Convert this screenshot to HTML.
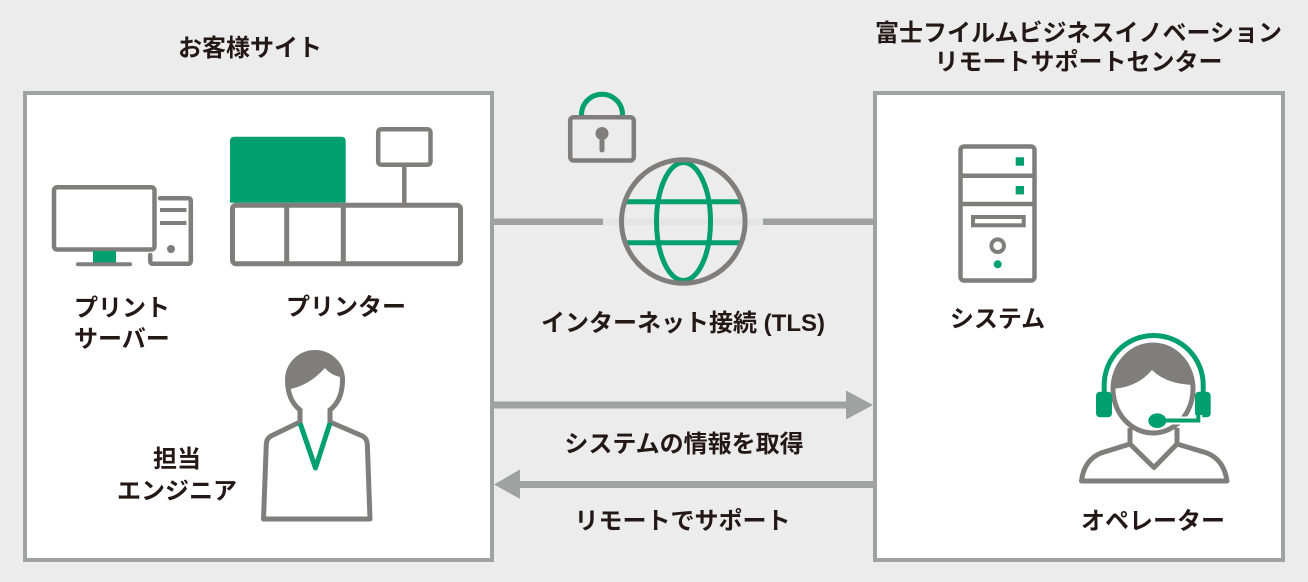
<!DOCTYPE html>
<html><head><meta charset="utf-8">
<style>
html,body{margin:0;padding:0;background:#ebeceb;}
svg{display:block;}
text{font-family:"Liberation Sans","Noto Sans CJK JP",sans-serif;fill:#231815;}
.t{font-size:24px;font-weight:bold;}
.l{font-size:24px;font-weight:bold;}
</style></head><body>
<svg width="1308" height="582" viewBox="0 0 1308 582" xmlns="http://www.w3.org/2000/svg">
<defs>
<clipPath id="eh"><path d="M300,422 L300,410 Q287.5,400 287.5,380 A27.5,27.5 0 0 1 342.5,380 Q342.5,400 330,410 L330,422 Z"/></clipPath>
<clipPath id="oh"><ellipse cx="1153" cy="389" rx="40" ry="44"/></clipPath>
</defs>
<rect width="1308" height="582" fill="#ebeceb"/>
<!-- boxes -->
<rect x="25" y="93" width="467" height="467" fill="#fff" stroke="#a0a2a1" stroke-width="4"/>
<rect x="875" y="93" width="408" height="467" fill="#fff" stroke="#a0a2a1" stroke-width="4"/>

<!-- titles -->
<text class="t" x="250" y="56" text-anchor="middle">お客様サイト</text>
<text class="t" x="1078.5" y="41" text-anchor="middle">富士フイルムビジネスイノベーション</text>
<text class="t" x="1078.5" y="70" text-anchor="middle">リモートサポートセンター</text>

<!-- connection lines -->
<line x1="494" y1="221.7" x2="603" y2="221.7" stroke="#a0a2a1" stroke-width="6.5"/>
<line x1="763" y1="221.7" x2="873" y2="221.7" stroke="#a0a2a1" stroke-width="6.5"/>
<line x1="603" y1="221.7" x2="763" y2="221.7" stroke="#e3e4e3" stroke-width="6.5"/>

<!-- lock -->
<path d="M581.5,118 L581.5,114.7 A20.5,20.5 0 0 1 622.5,114.7 L622.5,118" fill="none" stroke="#00a06e" stroke-width="5"/>
<rect x="570.2" y="117.2" width="63.6" height="43.3" rx="3.5" fill="#ebeceb" stroke="#7f7e7c" stroke-width="4.5"/>
<circle cx="602" cy="133.5" r="6.5" fill="#7f7e7c"/>
<line x1="602" y1="134" x2="602" y2="150" stroke="#7f7e7c" stroke-width="5" stroke-linecap="round"/>

<!-- globe -->
<line x1="624" y1="201.7" x2="743" y2="201.7" stroke="#00a06e" stroke-width="5"/>
<line x1="624" y1="242.7" x2="743" y2="242.7" stroke="#00a06e" stroke-width="5"/>
<ellipse cx="683.5" cy="221.5" rx="27" ry="59" fill="none" stroke="#00a06e" stroke-width="5"/>
<circle cx="683.3" cy="221.5" r="61.8" fill="none" stroke="#7f7e7c" stroke-width="5"/>
<text class="l" x="683" y="331" text-anchor="middle">インターネット接続 (TLS)</text>

<!-- arrows -->
<line x1="494" y1="405" x2="848" y2="405" stroke="#a0a2a1" stroke-width="7"/>
<polygon points="846,390.5 873,405 846,419.5" fill="#a0a2a1"/>
<line x1="518" y1="484.5" x2="873" y2="484.5" stroke="#a0a2a1" stroke-width="7"/>
<polygon points="494,484.5 520,469.5 520,499" fill="#a0a2a1"/>
<text class="l" x="684" y="452" text-anchor="middle">システムの情報を取得</text>
<text class="l" x="682.5" y="529" text-anchor="middle">リモートでサポート</text>

<!-- monitor / print server -->
<rect x="54" y="187.3" width="100.5" height="62.2" rx="3" fill="none" stroke="#7f7e7c" stroke-width="4.5"/>
<rect x="93" y="251" width="23" height="11.5" fill="#00a06e"/>
<line x1="78" y1="264.3" x2="130" y2="264.3" stroke="#7f7e7c" stroke-width="4" stroke-linecap="round"/>
<path d="M160,198.2 L188,198.2 Q190.8,198.2 190.8,201 L190.8,261 Q190.8,263.8 188,263.8 L153,263.8 Q150.2,263.8 150.2,261 L150.2,255" fill="none" stroke="#7f7e7c" stroke-width="4.5" stroke-linecap="round"/>
<line x1="160" y1="210" x2="186.5" y2="210" stroke="#7f7e7c" stroke-width="4"/>
<line x1="160" y1="223" x2="186.5" y2="223" stroke="#7f7e7c" stroke-width="4"/>
<circle cx="171" cy="249" r="4" fill="#7f7e7c"/>
<text class="l" x="74" y="316">プリント</text>
<text class="l" x="74" y="347">サーバー</text>

<!-- printer -->
<path d="M230,202.7 L230,141 Q230,136.7 234.5,136.7 L341.2,136.7 Q345.7,136.7 345.7,141 L345.7,202.7 Z" fill="#00a06e"/>
<rect x="232.5" y="205.2" width="228" height="58.5" rx="3.5" fill="none" stroke="#7f7e7c" stroke-width="5"/>
<line x1="286.7" y1="205" x2="286.7" y2="263.5" stroke="#7f7e7c" stroke-width="5"/>
<line x1="343.3" y1="205" x2="343.3" y2="263.5" stroke="#7f7e7c" stroke-width="5"/>
<rect x="378.2" y="129.2" width="52.3" height="35.6" rx="3" fill="none" stroke="#7f7e7c" stroke-width="4.5"/>
<line x1="404.3" y1="166" x2="404.3" y2="204" stroke="#7f7e7c" stroke-width="4.5"/>
<text class="l" x="346" y="315" text-anchor="middle">プリンター</text>

<!-- engineer -->
<path d="M300,422 L271,436 Q266.5,438.5 266.3,444 L263.5,519 L370,519 L367.3,444 Q367,438.5 362.5,436 L330,422" fill="#fff" stroke="#7f7e7c" stroke-width="5" stroke-linejoin="round"/>
<path d="M300,423 L315.5,468 L330,423" fill="none" stroke="#00a06e" stroke-width="5" stroke-linejoin="round"/>
<path d="M300,422 L300,410 Q287.5,400 287.5,380 A27.5,27.5 0 0 1 342.5,380 Q342.5,400 330,410 L330,422 Z" fill="#fff"/>
<path d="M280,390 Q305,390 325,368 Q333,378 350,378 L350,340 L280,340 Z" fill="#7f7e7c" clip-path="url(#eh)"/>
<path d="M300,423 L300,410 Q287.5,400 287.5,380 A27.5,27.5 0 0 1 342.5,380 Q342.5,400 330,410 L330,423" fill="none" stroke="#7f7e7c" stroke-width="5"/>
<text class="l" x="177" y="467" text-anchor="middle">担当</text>
<text class="l" x="177" y="499" text-anchor="middle">エンジニア</text>

<!-- server -->
<rect x="960.5" y="146.5" width="74" height="134" rx="3.5" fill="none" stroke="#7f7e7c" stroke-width="4.5"/>
<line x1="960" y1="175.7" x2="1035" y2="175.7" stroke="#7f7e7c" stroke-width="4.5"/>
<line x1="960" y1="204" x2="1035" y2="204" stroke="#7f7e7c" stroke-width="4.5"/>
<rect x="1015.7" y="157.3" width="8.3" height="8.4" fill="#00a06e"/>
<rect x="1015.7" y="186" width="8.3" height="8.4" fill="#00a06e"/>
<rect x="973" y="217" width="50.7" height="8.3" fill="none" stroke="#7f7e7c" stroke-width="4"/>
<circle cx="997.7" cy="245.7" r="6.3" fill="none" stroke="#7f7e7c" stroke-width="4"/>
<circle cx="997.7" cy="264.3" r="4" fill="#00a06e"/>
<text class="l" x="997.5" y="327" text-anchor="middle">システム</text>

<!-- operator -->
<path d="M1130,428 L1130,444 L1101,453 Q1084,460 1081.5,481 L1227,481 Q1224,460 1207,453 L1177,444 L1177,428" fill="#fff" stroke="#7f7e7c" stroke-width="5" stroke-linejoin="round"/>
<path d="M1130,444 L1154,467.5 L1177,444" fill="none" stroke="#7f7e7c" stroke-width="5" stroke-linejoin="round"/>
<ellipse cx="1153" cy="389" rx="40" ry="44" fill="#fff"/>
<path d="M1105,389 Q1135,390 1152,370 Q1168,386 1201,385 L1201,340 L1105,340 Z" fill="#7f7e7c" clip-path="url(#oh)"/>
<ellipse cx="1153" cy="389" rx="40" ry="44" fill="none" stroke="#7f7e7c" stroke-width="5"/>
<path d="M1104.2,400 L1104.2,385 A49,49 0 0 1 1203.2,385 L1203.2,400" fill="none" stroke="#fff" stroke-width="9"/>
<path d="M1104.2,400 L1104.2,385 A49,49 0 0 1 1203.2,385 L1203.2,400" fill="none" stroke="#00a06e" stroke-width="5"/>
<rect x="1096" y="391.7" width="16" height="25.6" rx="4" fill="#00a06e"/>
<rect x="1195" y="391.7" width="15.7" height="25.6" rx="4" fill="#00a06e"/>
<path d="M1198.3,415 L1198.3,420.5 L1163,420.5" fill="none" stroke="#fff" stroke-width="8"/>
<path d="M1198.3,415 L1198.3,420.5 L1163,420.5" fill="none" stroke="#00a06e" stroke-width="4"/>
<ellipse cx="1157.3" cy="420.7" rx="9" ry="7.3" fill="#00a06e"/>
<text class="l" x="1153" y="529" text-anchor="middle">オペレーター</text>
</svg>
</body></html>
